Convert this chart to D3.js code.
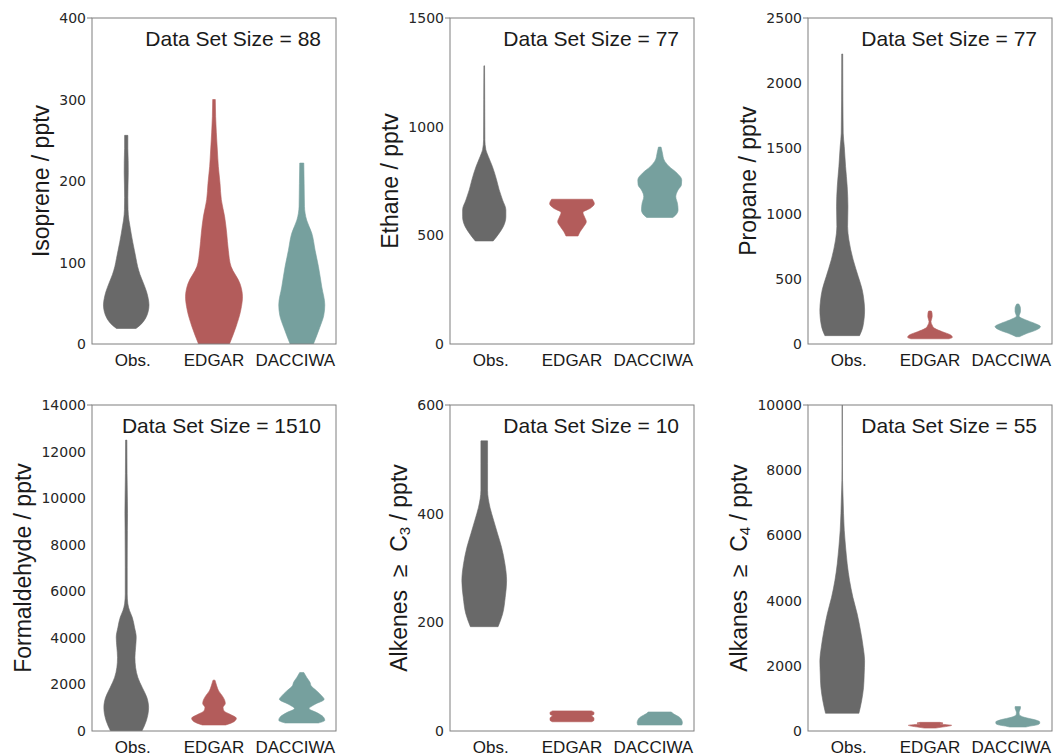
<!DOCTYPE html>
<html>
<head>
<meta charset="utf-8">
<script src="https://cdn.jsdelivr.net/npm/d3@7"></script>
<style>
  html, body { margin: 0; padding: 0; background: #ffffff; }
  svg { display: block; }
  text { white-space: pre; }
</style>
</head>
<body>
<svg id="chart" width="1057" height="756"></svg>
<script>
// ---- data -------------------------------------------------------------
const categories = ["Obs.", "EDGAR", "DACCIWA"];

const yLabelParts = [
  [["Isoprene / pptv", false]],
  [["Ethane / pptv", false]],
  [["Propane / pptv", false]],
  [["Formaldehyde / pptv", false]],
  [["Alkenes  \u2265  C", false], ["3", true], [" / pptv", false]],
  [["Alkanes  \u2265  C", false], ["4", true], [" / pptv", false]]
];
const dataSetSizes = [88, 77, 77, 1510, 10, 55];
const yMaxima = [400, 1500, 2500, 14000, 600, 10000];
const yTickSteps = [100, 500, 500, 2000, 200, 2000];

// Violin outlines: [mixing ratio (pptv), half width as a fraction of one category slot]
const isopreneObs = [[19, 0.12], [25, 0.19], [32, 0.24], [40, 0.27], [48, 0.28], [56, 0.27], [64, 0.25], [75, 0.21],
  [85, 0.17], [95, 0.14], [105, 0.12], [115, 0.10], [125, 0.08], [136, 0.06], [145, 0.045], [152, 0.033],
  [165, 0.022], [180, 0.02], [195, 0.022], [210, 0.025], [225, 0.024], [240, 0.02], [256, 0.02]];
const isopreneEdgar = [[0, 0.19], [21, 0.27], [42, 0.33], [58, 0.35], [74, 0.32], [95, 0.21], [115, 0.176],
  [136, 0.156], [156, 0.131], [177, 0.09], [197, 0.074], [218, 0.053], [238, 0.041], [259, 0.029], [279, 0.02], [300, 0.016]];
const isopreneDacciwa = [[0, 0.143], [20, 0.22], [35, 0.27], [48, 0.283], [70, 0.246], [95, 0.205], [115, 0.164],
  [136, 0.123], [152, 0.06], [169, 0.033], [197, 0.029], [222, 0.025]];

const ethaneObs = [[474, 0.11], [510, 0.184], [540, 0.234], [586, 0.266], [617, 0.266], [663, 0.225], [709, 0.184],
  [755, 0.152], [817, 0.10], [863, 0.05], [894, 0.02], [940, 0.008], [1124, 0.006], [1280, 0.004]];
const ethaneEdgar = [[497, 0.074], [517, 0.10], [540, 0.143], [563, 0.176], [583, 0.156], [605, 0.135], [625, 0.226],
  [645, 0.275], [666, 0.25]];
const ethaneDacciwa = [[582, 0.16], [594, 0.197], [617, 0.225], [648, 0.217], [678, 0.197], [709, 0.225], [732, 0.266],
  [755, 0.27], [786, 0.213], [817, 0.115], [847, 0.053], [878, 0.033], [906, 0.016]];

const propaneObs = [[64, 0.213], [133, 0.254], [261, 0.275], [338, 0.266], [415, 0.246], [517, 0.197], [645, 0.135],
  [798, 0.082], [901, 0.066], [1054, 0.07], [1208, 0.061], [1361, 0.041], [1515, 0.025], [1617, 0.012],
  [1872, 0.008], [2224, 0.006]];
const propaneEdgar = [[40, 0.234], [51, 0.275], [69, 0.254], [94, 0.152], [120, 0.057], [146, 0.025], [171, 0.012],
  [210, 0.027], [236, 0.025], [253, 0.016]];
const propaneDacciwa = [[56, 0.02], [82, 0.115], [107, 0.225], [133, 0.279], [159, 0.205], [184, 0.10], [215, 0.016],
  [248, 0.033], [274, 0.033], [307, 0.012]];

const formaldehydeObs = [[0, 0.193], [431, 0.246], [1005, 0.275], [1436, 0.254], [1867, 0.197], [2297, 0.143],
  [2728, 0.115], [3159, 0.107], [3590, 0.115], [4020, 0.123], [4451, 0.102], [4882, 0.074], [5169, 0.041],
  [5456, 0.02], [5887, 0.012], [7036, 0.012], [8615, 0.014], [9333, 0.016], [10051, 0.014], [11056, 0.01], [12492, 0.008]];
const formaldehydeEdgar = [[258, 0.143], [402, 0.246], [545, 0.275], [718, 0.197], [862, 0.123], [1005, 0.111],
  [1178, 0.139], [1321, 0.131], [1508, 0.102], [1723, 0.057], [1939, 0.033], [2184, 0.012]];
const formaldehydeDacciwa = [[345, 0.205], [460, 0.283], [603, 0.266], [790, 0.184], [962, 0.09], [1149, 0.164],
  [1364, 0.275], [1508, 0.246], [1723, 0.184], [1939, 0.115], [2082, 0.102], [2298, 0.061], [2513, 0.025]];

const alkenesObs = [[192, 0.17], [215, 0.225], [246, 0.258], [277, 0.275], [308, 0.254], [338, 0.213], [363, 0.164],
  [388, 0.115], [412, 0.07], [443, 0.041], [462, 0.041], [492, 0.041], [534, 0.041]];
const alkenesEdgar = [[17, 0.24], [20, 0.27], [24, 0.27], [28, 0.24], [31, 0.27], [34, 0.27], [37, 0.24]];
const alkenesDacciwa = [[11, 0.27], [15, 0.278], [20, 0.27], [25, 0.245], [29, 0.20], [32, 0.164], [35, 0.143]];

const alkanesObs = [[544, 0.205], [923, 0.238], [1333, 0.262], [1744, 0.27], [2154, 0.275], [2564, 0.258],
  [3077, 0.225], [3590, 0.184], [4102, 0.131], [4615, 0.09], [5128, 0.061], [5641, 0.041], [6154, 0.025],
  [6667, 0.016], [7179, 0.01], [7692, 0.004], [8718, 0.002], [10000, 0.002]];
const alkanesEdgar = [[90, 0.07], [120, 0.15], [150, 0.23], [175, 0.266], [195, 0.2], [215, 0.12], [240, 0.16], [265, 0.12]];
const alkanesDacciwa = [[123, 0.1], [150, 0.15], [190, 0.24], [240, 0.27], [280, 0.27], [350, 0.2], [420, 0.08],
  [500, 0.02], [560, 0.016], [640, 0.025], [700, 0.033], [748, 0.033]];

const panelViolins = [
  [isopreneObs, isopreneEdgar, isopreneDacciwa],
  [ethaneObs, ethaneEdgar, ethaneDacciwa],
  [propaneObs, propaneEdgar, propaneDacciwa],
  [formaldehydeObs, formaldehydeEdgar, formaldehydeDacciwa],
  [alkenesObs, alkenesEdgar, alkenesDacciwa],
  [alkanesObs, alkanesEdgar, alkanesDacciwa]
];

// ---- styling / layout -------------------------------------------------
const violinColors = ["#696969", "#b35c5b", "#76a09e"];
const panelLeft = [92, 450, 808];
const panelTop = [18, 405];
const panelW = 244, panelH = 326;
const spineColor = "#7f7f7f";
const tickFont = "'DejaVu Sans', sans-serif";
const labelFont = "'Liberation Sans', Arial, Helvetica, sans-serif";

const svg = d3.select("#chart");

panelViolins.forEach((violins, p) => {
  const col = p % 3, row = Math.floor(p / 3);
  const g = svg.append("g")
    .attr("transform", `translate(${panelLeft[col]},${panelTop[row]})`);

  const y = d3.scaleLinear().domain([0, yMaxima[p]]).range([panelH, 0]);
  const xLabel = d3.scalePoint().domain(categories).range([0, panelW]).padding(0.5);
  const xViolin = d3.scalePoint().domain(categories).range([0, panelW]).padding(0.39);
  const halfWidth = d3.scaleLinear().domain([0, 1]).range([0, panelW / 3]);

  // violins
  const clipId = `clip-${p}`;
  g.append("clipPath").attr("id", clipId)
    .append("rect").attr("width", panelW).attr("height", panelH);

  const vg = g.append("g").attr("clip-path", `url(#${clipId})`);
  violins.forEach((profile, i) => {
    const cx = xViolin(categories[i]);
    const area = d3.area()
      .curve(d3.curveMonotoneY)
      .y(d => y(d[0]))
      .x0(d => cx - halfWidth(d[1]))
      .x1(d => cx + halfWidth(d[1]));
    vg.append("path")
      .datum(profile)
      .attr("d", area)
      .attr("fill", violinColors[i])
      .attr("stroke", violinColors[i])
      .attr("stroke-width", 0.6)
      .attr("stroke-linejoin", "round");
  });

  // y axis tick labels
  const ticks = d3.range(0, yMaxima[p] + 1e-9, yTickSteps[p]);
  const tickG = g.append("g");
  const tickTexts = tickG.selectAll("text").data(ticks).join("text")
    .attr("x", -6)
    .attr("y", d => y(d))
    .attr("dy", "0.36em")
    .attr("text-anchor", "end")
    .attr("font-family", tickFont)
    .attr("font-size", 14)
    .attr("fill", "#262626")
    .text(d => d3.format("d")(d));
  let maxTickW = 0;
  tickTexts.each(function () { maxTickW = Math.max(maxTickW, this.getComputedTextLength()); });

  // small tick at the top of the value axis
  g.append("line")
    .attr("x1", -5).attr("x2", 0)
    .attr("y1", y(yMaxima[p])).attr("y2", y(yMaxima[p]))
    .attr("stroke", spineColor).attr("stroke-width", 1);

  // category labels
  g.append("g").selectAll("text").data(categories).join("text")
    .attr("x", d => xLabel(d))
    .attr("y", panelH + 22)
    .attr("text-anchor", "middle")
    .attr("font-family", labelFont)
    .attr("font-size", 17)
    .attr("fill", "#1a1a1a")
    .text(d => d);

  // frame
  g.append("rect")
    .attr("x", 0).attr("y", 0)
    .attr("width", panelW).attr("height", panelH)
    .attr("fill", "none")
    .attr("stroke", spineColor)
    .attr("stroke-width", 1);

  // y axis title
  const title = g.append("text")
    .attr("transform", `translate(${-(maxTickW + 16)},${panelH / 2}) rotate(-90)`)
    .attr("text-anchor", "middle")
    .attr("font-family", labelFont)
    .attr("font-size", 23)
    .attr("fill", "#1a1a1a");
  yLabelParts[p].forEach(([t, sub]) => {
    const ts = title.append("tspan").text(t);
    if (sub) ts.attr("font-size", 15).attr("baseline-shift", "-22%");
  });

  // sample size annotation
  g.append("text")
    .attr("x", panelW - 15)
    .attr("y", 28)
    .attr("text-anchor", "end")
    .attr("font-family", labelFont)
    .attr("font-size", 21)
    .attr("fill", "#1a1a1a")
    .text(`Data Set Size = ${dataSetSizes[p]}`);
});
</script>
</body>
</html>
